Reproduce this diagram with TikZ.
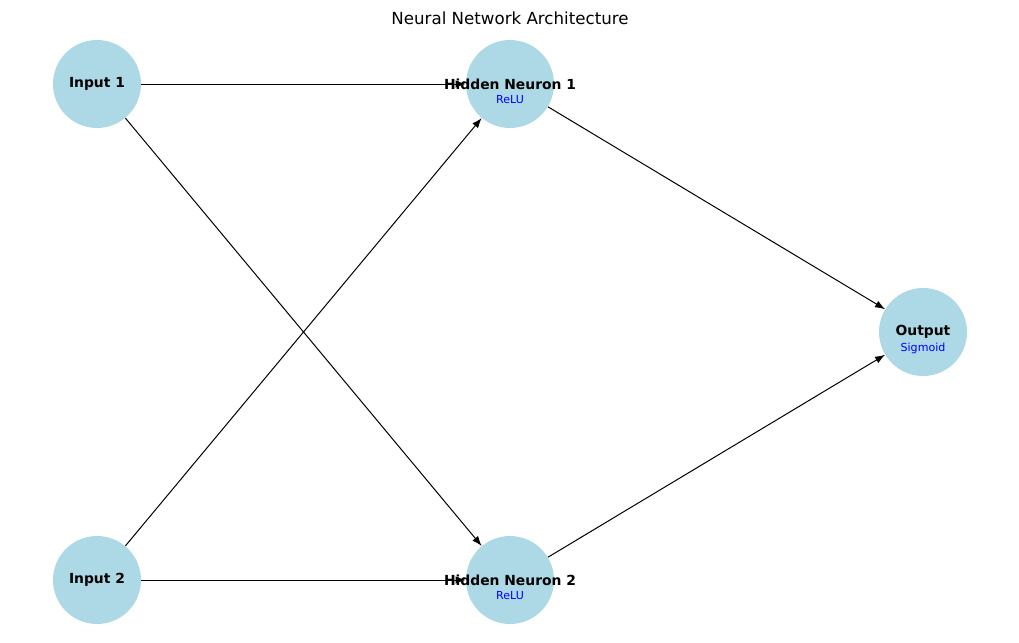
\documentclass[tikz,border=0pt]{standalone}
\usepackage{fontspec}
\setmainfont{DejaVu Sans}
\usetikzlibrary{arrows.meta,backgrounds}
\definecolor{neuronblue}{HTML}{ADD8E6}
\newcommand{\nname}[1]{\makebox[0pt]{#1}}
\tikzset{
  neuron/.style={circle, fill=neuronblue, minimum size=66pt, inner sep=0pt,
    font=\fontsize{10.4}{12}\selectfont\bfseries},
  actlabel/.style={text=blue, font=\fontsize{8.3}{10}\selectfont},
  link/.style={-{Latex[length=7.5pt,width=5.5pt]}, line width=0.75pt}
}
\begin{document}
\begin{tikzpicture}[x=0.75pt, y=-0.75pt]
\useasboundingbox (0, 0) rectangle (1019, 642);
\node at (510, 18) [font=\fontsize{12.5}{15}\selectfont] (title) {Neural Network Architecture};
\node[neuron] (in1) at (97, 84) {\nname{Input 1}};
\node[neuron] (in2) at (97, 580) {\nname{Input 2}};
\node[neuron] (h1) at (510, 84) {\nname{Hidden Neuron 1}};
\node[neuron] (h2) at (510, 580) {\nname{Hidden Neuron 2}};
\node[neuron] (out) at (923, 332) {\nname{Output}};
\node[actlabel] (h1act) at (510, 100) {ReLU};
\node[actlabel] (h2act) at (510, 596) {ReLU};
\node[actlabel] (outact) at (923, 348) {Sigmoid};
\begin{pgfonlayer}{background}
\draw[link] (in1) -- (h1);
\draw[link] (in1) -- (h2);
\draw[link] (in2) -- (h1);
\draw[link] (in2) -- (h2);
\draw[link] (h1) -- (out);
\draw[link] (h2) -- (out);
\end{pgfonlayer}
\end{tikzpicture}
\end{document}
